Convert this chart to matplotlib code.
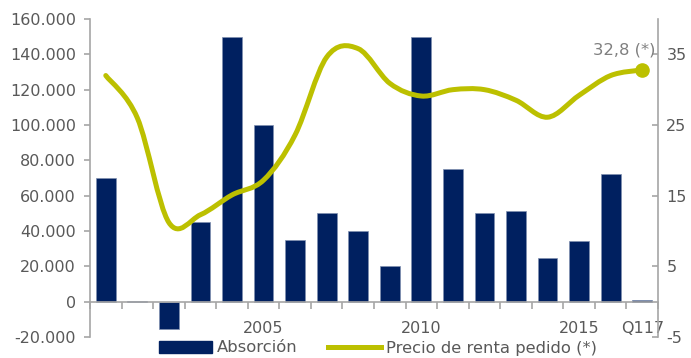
import matplotlib
matplotlib.use("Agg")
import matplotlib.pyplot as plt
from matplotlib.path import Path
from matplotlib.patches import PathPatch
from matplotlib.lines import Line2D
from matplotlib.patches import Patch
import numpy as np

plt.rcParams['font.family'] = ['DejaVu Sans']
plt.rcParams['axes.unicode_minus'] = False

categories = ["2000", "2001", "2002", "2003", "2004", "2005", "2006", "2007", "2008",
              "2009", "2010", "2011", "2012", "2013", "2014", "2015", "2016", "Q117"]
tick_labels = ["", "", "", "", "", "2005", "", "", "", "", "2010", "", "", "", "", "2015", "", "Q117"]
absorcion = [70000, 500, -15500, 45000, 150000, 100000, 35000, 50000, 40000,
             20000, 150000, 75000, 50000, 51500, 25000, 34500, 72000, 1200]
precio = [32.0, 26.0, 11.2, 12.3, 15.1, 17.2, 23.6, 34.6, 35.8,
          30.9, 29.1, 30.0, 30.0, 28.5, 26.1, 29.2, 32.0, 32.8]
last_label = "32,8 (*)"

navy = '#002060'
olive = '#BCC000'
grey_txt = '#595959'
axis_grey = '#A6A6A6'

fig = plt.figure(figsize=(6.91, 3.58), dpi=100)
ax = fig.add_axes([90/691, 21/358, 568/691, 318/358])
ax2 = ax.twinx()

x = np.arange(len(categories))
ax.bar(x, absorcion, width=0.63, color=navy, edgecolor='#8090B0', linewidth=0.5, zorder=2)

ax.set_xlim(-0.5, len(categories) - 0.5)
ax.set_ylim(-20000, 160000)
ax.set_yticks(np.arange(-20000, 160001, 20000))
ax.set_yticklabels([f"{v:,}".replace(",", ".") for v in range(-20000, 160001, 20000)])

ax2.set_ylim(-5, 40)
ax2.set_yticks([-5, 5, 15, 25, 35])

# spines
for s in ['top']:
    ax.spines[s].set_visible(False)
    ax2.spines[s].set_visible(False)
ax2.spines['bottom'].set_visible(False)
ax2.spines['left'].set_visible(False)
ax.spines['right'].set_visible(False)
ax.spines['bottom'].set_position(('data', 0))
ax.spines['bottom'].set_color(axis_grey)
ax.spines['left'].set_color(axis_grey)
ax2.spines['right'].set_color(axis_grey)
for s in [ax.spines['bottom'], ax.spines['left'], ax2.spines['right']]:
    s.set_linewidth(1.2)

ax.tick_params(axis='y', direction='out', length=4, width=1.2, color=axis_grey,
               labelcolor=grey_txt, labelsize=11.5, pad=6)
ax2.tick_params(axis='y', direction='in', length=4, width=1.2, color=axis_grey,
                labelcolor=grey_txt, labelsize=11.5, pad=6)

# x ticks: boundaries (major, no labels), centers (minor, labels)
ax.set_xticks(np.arange(-0.5, len(categories) - 0.4, 1.0))
ax.set_xticklabels([])
ax.set_xticks(x, minor=True)
ax.set_xticklabels(tick_labels, minor=True)
ax.tick_params(axis='x', which='major', direction='out', length=5, width=1.2, color=axis_grey)
ax.tick_params(axis='x', which='minor', length=0, pad=14, labelsize=11.5, labelcolor=grey_txt)

# smoothed line (Catmull-Rom as cubic Bezier segments in data coordinates)
pts = np.column_stack([x, precio]).astype(float)
n = len(pts)
verts = [tuple(pts[0])]
codes = [Path.MOVETO]
for i in range(n - 1):
    p0 = pts[i - 1] if i > 0 else pts[i]
    p1 = pts[i]
    p2 = pts[i + 1]
    p3 = pts[i + 2] if i + 2 < n else pts[i + 1]
    c1 = p1 + (p2 - p0) / 6.0
    c2 = p2 - (p3 - p1) / 6.0
    verts += [tuple(c1), tuple(c2), tuple(p2)]
    codes += [Path.CURVE4] * 3
path = Path(verts, codes)
ax2.add_patch(PathPatch(path, facecolor='none', edgecolor=olive, linewidth=3.6,
                        capstyle='round', joinstyle='round', zorder=3))
ax2.plot([x[-1]], [precio[-1]], 'o', color=olive, markersize=9.5, zorder=4)
ax2.annotate(last_label, (x[-1], precio[-1]), xytext=(9.5, 14), textcoords='offset points',
             ha='right', va='center', color='#7F7F7F', fontsize=11.8)

handles = [Patch(facecolor=navy, edgecolor=navy),
           Line2D([0], [0], color=olive, linewidth=3.6)]
fig.legend(handles, ["Absorción", "Precio de renta pedido (*)"], loc='center',
           bbox_to_anchor=(378/691, 1 - 348/358), ncol=2, frameon=False,
           fontsize=11.8, labelcolor=grey_txt, handlelength=3.2, handleheight=0.8,
           handletextpad=0.3, columnspacing=1.9, borderpad=0, borderaxespad=0)

fig.savefig("out.png", dpi=100)
